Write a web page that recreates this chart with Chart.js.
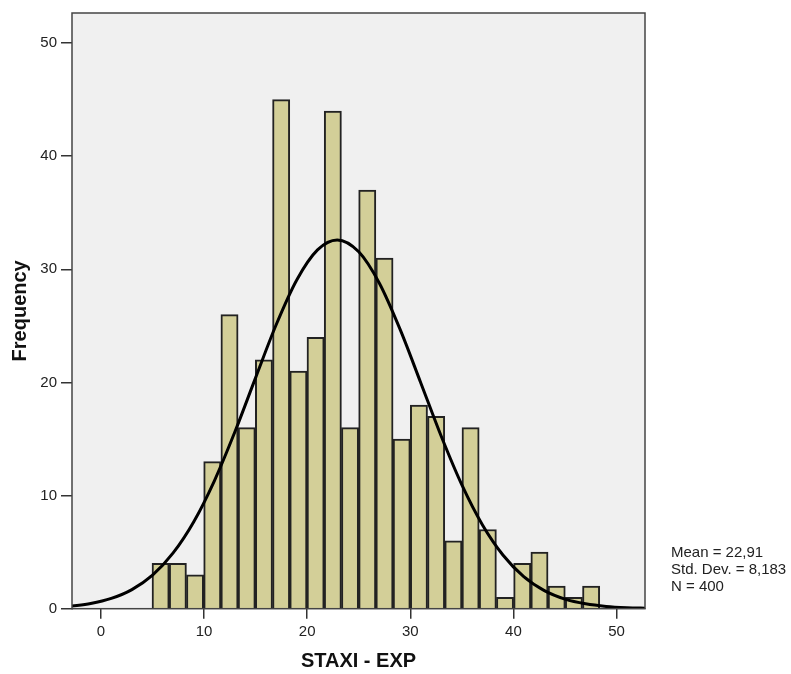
<!DOCTYPE html>
<html><head><meta charset="utf-8">
<script src="https://cdn.jsdelivr.net/npm/chart.js@4.4.1/dist/chart.umd.min.js"></script>
<style>html,body{margin:0;padding:0;background:#fff;} canvas{display:block;}</style>
</head><body>
<canvas id="c" width="791" height="674"></canvas>
<script>
// ---- data ----
const binStart = 4.95;
const binWidth = 1.67;
const frequencies = [4,4,3,13,26,16,22,45,21,24,44,16,37,31,15,18,17,6,16,7,1,4,5,2,1,2];
const curveX = [-3,-1,1,3,5,7,9,11,13,15,17,19,21,22.91,25,27,29,31,33,35,37,39,41,43,45,47,49,51,53];
const curveY = [0.22,0.46,0.91,1.69,2.97,4.93,7.69,11.31,15.66,20.43,25.12,29.08,31.72,32.6,31.55,28.77,24.71,20.0,15.24,10.94,7.40,4.72,2.83,1.60,0.85,0.43,0.20,0.09,0.04];
const xTicks = [0,10,20,30,40,50];
const yTicks = [0,10,20,30,40,50];
const statLines = ['Mean = 22,91','Std. Dev. = 8,183','N = 400'];
const xTitle = 'STAXI - EXP';
const yTitle = 'Frequency';

const FONT = '"Liberation Sans", Arial, sans-serif';
const barData = frequencies.map((f,i)=>({x: binStart + binWidth*(i+0.5), y: f}));
const curveData = curveX.map((x,i)=>({x, y: curveY[i]}));

const framePlugin = {
  id: 'frame',
  beforeDatasetsDraw(chart) {
    const {ctx, chartArea: a} = chart;
    ctx.save();
    ctx.fillStyle = '#f0f0f0';
    ctx.fillRect(a.left, a.top, a.right - a.left, a.bottom - a.top);
    ctx.restore();
  },
  afterDraw(chart) {
    const {ctx, chartArea: a} = chart;
    ctx.save();
    ctx.strokeStyle = '#444';
    ctx.lineWidth = 1.5;
    ctx.strokeRect(a.left, a.top, a.right - a.left, a.bottom - a.top);
    ctx.fillStyle = '#222';
    ctx.font = '15px ' + FONT;
    ctx.textBaseline = 'alphabetic';
    ctx.textAlign = 'left';
    statLines.forEach((t, i) => ctx.fillText(t, a.right + 26, a.bottom - 51.4 + i * 16.7));
    ctx.restore();
  }
};

new Chart(document.getElementById('c'), {
  type: 'bar',
  data: {
    datasets: [
      {
        type: 'line',
        data: curveData,
        borderColor: '#000',
        borderWidth: 3,
        pointRadius: 0,
        cubicInterpolationMode: 'monotone',
        fill: false,
        order: 0
      },
      {
        type: 'bar',
        data: barData,
        backgroundColor: '#d3cf98',
        borderColor: '#222',
        borderWidth: 2,
        barPercentage: 1,
        categoryPercentage: 1,
        order: 1
      }
    ]
  },
  options: {
    responsive: false,
    animation: false,
    devicePixelRatio: 1,
    layout: { padding: { top: 10, right: 146, left: 0, bottom: 0 } },
    plugins: { legend: { display: false }, tooltip: { enabled: false } },
    scales: {
      x: {
        type: 'linear',
        position: 'bottom',
        offset: false,
        min: -2.81,
        max: 52.76,
        afterBuildTicks: s => { s.ticks = xTicks.map(v => ({ value: v })); },
        afterFit: s => { s.height = 65.3; },
        grid: { offset: false, drawOnChartArea: false, drawTicks: true, tickLength: 10, color: '#333', lineWidth: 1.5 },
        border: { display: true, color: '#444' },
        ticks: { padding: 4, color: '#222', font: { family: FONT, size: 15 }, maxRotation: 0 },
        title: { display: true, text: xTitle, color: '#111', font: { family: FONT, size: 20, weight: 'bold' }, padding: { top: 0, bottom: 1 } }
      },
      y: {
        type: 'linear',
        min: 0,
        max: 52.66,
        afterBuildTicks: s => { s.ticks = yTicks.map(v => ({ value: v })); },
        afterFit: s => { s.width = 72; },
        grid: { drawOnChartArea: false, drawTicks: true, tickLength: 11, color: '#333', lineWidth: 1.5 },
        border: { display: true, color: '#444' },
        ticks: { padding: 4, color: '#222', font: { family: FONT, size: 15 } },
        title: { display: true, text: yTitle, color: '#111', font: { family: FONT, size: 20, weight: 'bold' }, padding: { top: 8, bottom: 0 } }
      }
    }
  },
  plugins: [framePlugin]
});
</script>
</body></html>
